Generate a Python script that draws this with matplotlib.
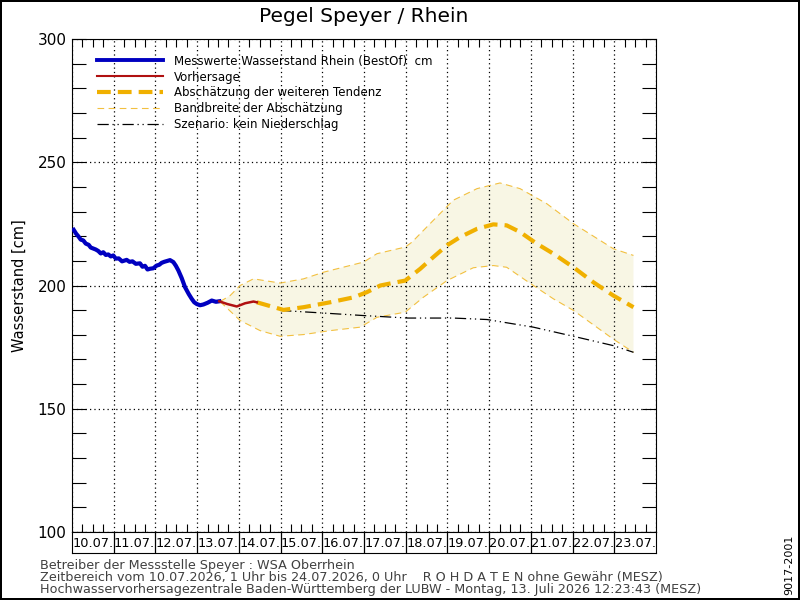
import numpy as np
import matplotlib
matplotlib.use('Agg')
import matplotlib.pyplot as plt
from matplotlib.ticker import MultipleLocator

#%% data (time in days since 10.07. 0 Uhr, level in cm)
days = ['10.07.', '11.07.', '12.07.', '13.07.', '14.07.', '15.07.', '16.07.',
        '17.07.', '18.07.', '19.07.', '20.07.', '21.07.', '22.07.', '23.07.']

mess_t = [0.04, 0.10, 0.15, 0.21, 0.27, 0.33, 0.40, 0.45, 0.51, 0.57, 0.63, 0.69,
          0.75, 0.81, 0.87, 0.93, 0.99, 1.05, 1.12, 1.20, 1.31, 1.38, 1.45, 1.53,
          1.63, 1.69, 1.75, 1.81, 1.87, 1.95, 2.03, 2.09, 2.15, 2.21, 2.27, 2.35,
          2.43, 2.49, 2.55, 2.63, 2.71, 2.80, 2.87, 2.93, 2.99, 3.07, 3.15, 3.25,
          3.35, 3.45, 3.53]
mess_v = [222.6, 221.0, 220.0, 218.6, 218.3, 217.0, 216.5, 215.4, 215.0, 214.6,
          214.0, 213.0, 213.5, 212.4, 212.6, 211.8, 212.2, 210.9, 211.0, 209.8,
          210.4, 209.6, 209.8, 208.8, 209.0, 207.6, 208.0, 206.5, 206.8, 207.0,
          208.1, 208.4, 209.2, 209.6, 209.9, 210.3, 209.5, 208.0, 206.1, 203.0,
          199.3, 196.5, 194.6, 193.2, 192.5, 192.0, 192.3, 193.0, 193.9, 193.4,
          193.6]

vorh_t = [3.53, 3.72, 3.95, 4.15, 4.35, 4.43]
vorh_v = [193.6, 192.5, 191.5, 192.8, 193.5, 193.2]

tend_t = [4.43, 5.07, 5.55, 6.19, 6.75, 7.07, 7.39, 7.71, 7.99, 8.35, 8.66, 8.99,
          9.30, 9.71, 10.10, 10.42, 10.74, 11.14, 11.54, 12.02, 12.50, 12.98, 13.46]
tend_v = [193.2, 190.1, 191.2, 193.2, 195.2, 197.3, 200.0, 201.1, 202.0, 206.8,
          211.5, 216.3, 219.6, 223.0, 224.8, 224.4, 221.7, 217.0, 212.9, 207.4,
          201.3, 195.9, 191.2]

ober_t = [3.55, 3.79, 4.03, 4.35, 4.99, 5.55, 6.03, 6.99, 7.31, 7.99, 8.15, 8.66,
          9.14, 9.71, 10.26, 10.74, 11.38, 12.02, 12.98, 13.46]
ober_v = [193.5, 195.9, 200.0, 202.7, 201.0, 202.7, 205.4, 209.5, 212.9, 215.6,
          217.6, 226.4, 234.6, 239.3, 241.6, 239.3, 233.2, 225.1, 214.9, 212.2]

unter_t = [3.55, 4.03, 4.51, 4.99, 5.55, 6.19, 6.91, 7.31, 7.99, 8.42, 8.99, 9.62,
           10.10, 10.42, 11.06, 11.54, 12.02, 12.98, 13.46]
unter_v = [193.5, 185.8, 181.7, 179.4, 180.1, 181.7, 183.1, 187.1, 189.2, 195.2,
           202.0, 207.2, 208.1, 207.4, 200.0, 194.6, 189.9, 178.2, 172.9]

szen_t = [4.99, 5.96, 7.00, 8.05, 9.14, 9.95, 11.06, 12.02, 12.98, 13.46]
szen_v = [189.9, 188.9, 187.8, 186.8, 186.8, 186.2, 183.1, 179.4, 175.6, 172.9]

#%% figure
fig = plt.figure(figsize=(8, 6), dpi=100)
fig.patch.set_edgecolor('black')
fig.patch.set_linewidth(1.5)

ax = fig.add_axes([0.09, 0.1133, 0.73, 0.8217])

# band of the estimate
ax.fill(ober_t + unter_t[::-1], ober_v + unter_v[::-1],
        color='#f8f6e4', lw=0, zorder=1)
ax.plot(ober_t, ober_v, color='#f2c040', lw=0.8, dashes=(6, 4), zorder=2)
ax.plot(unter_t, unter_v, color='#f2c040', lw=0.8, dashes=(6, 4), zorder=2)

ax.plot(szen_t, szen_v, color='black', lw=0.9, dashes=(9, 3, 1, 3, 1, 3), zorder=3)
ax.plot(tend_t, tend_v, color='#f0b000', lw=3, dashes=(3.3, 1.7), zorder=4)
ax.plot(mess_t, mess_v, color='#0000c0', lw=3, zorder=5)
ax.plot(vorh_t, vorh_v, color='#b01010', lw=1.8, zorder=6)

ax.set_xlim(0, 14)
ax.set_ylim(100, 300)

# ticks
ax.xaxis.set_major_locator(MultipleLocator(1))
ax.xaxis.set_minor_locator(MultipleLocator(0.25))
ax.yaxis.set_major_locator(MultipleLocator(50))
ax.yaxis.set_minor_locator(MultipleLocator(10))
ax.tick_params(axis='x', which='both', direction='in', top=True, bottom=True,
               labelbottom=False, length=6, width=0.8)
ax.tick_params(axis='x', which='major', length=0)
ax.tick_params(axis='y', which='both', direction='in', left=True, right=True,
               length=10, width=0.8, labelsize=11, pad=4)
ax.grid(True, which='major', color='black', ls=(0, (1, 2.5)), lw=0.9)
ax.set_ylabel('Wasserstand [cm]', fontsize=10.5, labelpad=8)

ax.set_title('Pegel Speyer / Rhein', fontsize=14.5, pad=12)

# legend
ax.plot([], [], color='#0000c0', lw=2.8, label='Messwerte Wasserstand Rhein (BestOf)  cm')
ax.plot([], [], color='#b01010', lw=1.5, label='Vorhersage')
ax.plot([], [], color='#f0b000', lw=3, dashes=(3.3, 1.7), label='Abschätzung der weiteren Tendenz')
ax.plot([], [], color='#f2c040', lw=0.8, dashes=(6, 4), label='Bandbreite der Abschätzung')
ax.plot([], [], color='black', lw=0.9, dashes=(9, 3, 1, 3, 1, 3), label='Szenario: kein Niederschlag')
handles, labels = ax.get_legend_handles_labels()
ax.legend(handles[-5:], labels[-5:], loc='upper left', frameon=False, fontsize=8.5,
          handlelength=5.6, handletextpad=0.9, labelspacing=0.25,
          bbox_to_anchor=(0.025, 0.99))

# date box under the plot
axd = fig.add_axes([0.09, 0.0783, 0.73, 0.035])
axd.set_xlim(0, 14)
axd.set_ylim(0, 1)
axd.set_xticks([])
axd.set_yticks([])
for i, d in enumerate(days):
    if i > 0:
        axd.axvline(i, color='black', lw=0.9)
    axd.text(i + 0.5, 0.45, d, ha='center', va='center', fontsize=9.3)

# footer
fig.text(0.05, 0.051, 'Betreiber der Messstelle Speyer : WSA Oberrhein', fontsize=9.2, color='#404040')
fig.text(0.05, 0.031, 'Zeitbereich vom 10.07.2026, 1 Uhr bis 24.07.2026, 0 Uhr    R O H D A T E N ohne Gewähr (MESZ)',
         fontsize=9.2, color='#404040')
fig.text(0.05, 0.011, 'Hochwasservorhersagezentrale Baden-Württemberg der LUBW - Montag, 13. Juli 2026 12:23:43 (MESZ)',
         fontsize=9.2, color='#404040')
fig.text(0.987, 0.058, '9017-2001', rotation=90, fontsize=8, ha='center', va='center')

plt.savefig('out.png', dpi=100)
